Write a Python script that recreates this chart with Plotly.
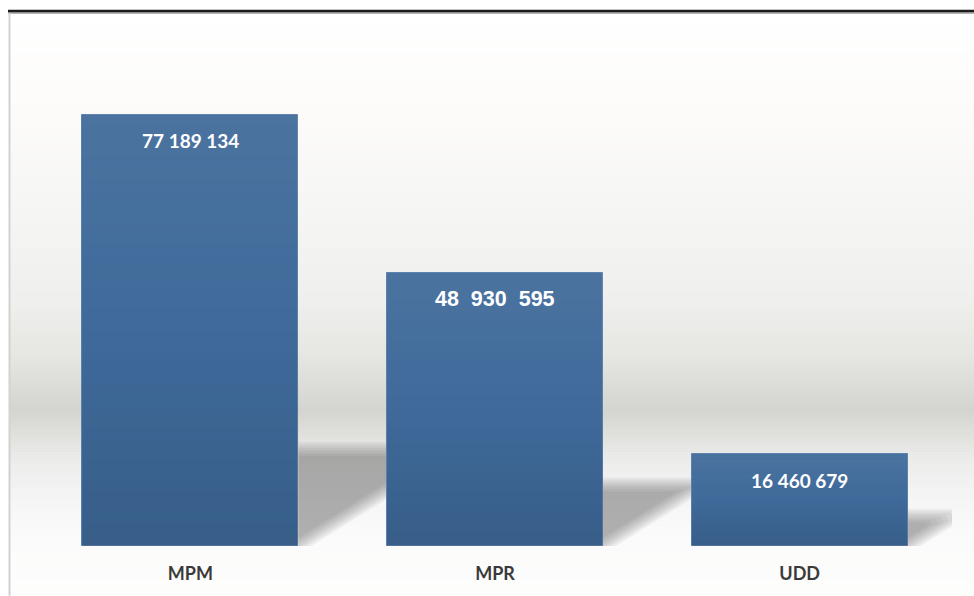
import plotly.graph_objects as go

categories = ["MPM", "MPR", "UDD"]
values = [77189134, 48930595, 16460679]
label_seps = ["\u00a0", "\u00a0\u00a0", "\u00a0"]
label_fonts = ["Lato", "Liberation Sans", "Lato"]
label_sizes = [19, 21.5, 19]

W, H = 974, 596
ML, MR, MT, MB = 38, 22, 13, 48
PW, PH = W - ML - MR, H - MT - MB
XUNIT = PW / 3.0            # px per category
BAR_W = 216 / XUNIT
YMAX = values[0] * PH / 433.0
YPX = PH / YMAX             # px per value unit

def px2paper_x(px):
    return (px - ML) / PW

def px2paper_y(py):
    return (H - MB - py) / PH

def hexrgb(h):
    h = h.lstrip("#")
    return tuple(int(h[i:i + 2], 16) for i in (0, 2, 4))

def lerp_color(stops, py):
    for (y0, c0), (y1, c1) in zip(stops, stops[1:]):
        if y0 <= py <= y1:
            t = (py - y0) / (y1 - y0) if y1 > y0 else 0
            a, b = hexrgb(c0), hexrgb(c1)
            return "rgb(%d,%d,%d)" % tuple(round(a[k] + (b[k] - a[k]) * t) for k in range(3))
    return stops[-1][1]

bg_stops = [(13, "#ffffff"), (120, "#fcfbf9"), (200, "#f6f6f5"), (300, "#efefed"),
            (360, "#e5e5e2"), (412, "#d4d4cf"), (428, "#dcdcd8"), (460, "#ebebea"),
            (500, "#f5f5f5"), (540, "#fbfbfb"), (596, "#fdfdfc")]

shapes = []
# background gradient
step = 3
for py in range(13, H, step):
    shapes.append(dict(type="rect", xref="paper", yref="paper", layer="below",
                       x0=px2paper_x(10), x1=px2paper_x(W + 2),
                       y0=px2paper_y(py + step + 0.5), y1=px2paper_y(py),
                       fillcolor=lerp_color(bg_stops, py + step / 2), line=dict(width=0)))

# bar shadows (computed from the bar values), soft edges by layering
SLOPE = 0.63
for i, v in enumerate(values):
    bar_px = v * YPX
    frac = 0.225 if i < 2 else 0.33
    hs = bar_px * frac
    R = i + BAR_W / 2
    for d in [-7, -5, -3, -1, 1, 3, 5, 7]:
        y0 = d * (1 + SLOPE ** 2) ** 0.5
        top = hs - d
        if top <= y0:
            continue
        xr = (top - y0) / SLOPE
        if i == 2:
            pts = [(R, y0 / YPX), (R + xr * 0.8 / XUNIT, (y0 + (top - y0) * 0.8) / YPX),
                   (R + xr * 0.72 / XUNIT, top / YPX), (R, top / YPX)]
        else:
            pts = [(R, y0 / YPX), (R + xr / XUNIT, top / YPX), (R, top / YPX)]
        path = "M " + " L ".join("%f,%f" % p for p in pts) + " Z"
        shapes.append(dict(type="path", xref="x", yref="y", layer="below", path=path,
                           fillcolor="rgba(92,90,86,0.072)", line=dict(width=0)))

# subtle vertical gradient on the bars (light top, darker bottom)
NSTRIP = 40
for i, v in enumerate(values):
    for k in range(NSTRIP):
        t0, t1 = k / NSTRIP, (k + 1) / NSTRIP   # 0 = bottom, 1 = top
        tm = (t0 + t1) / 2
        if tm > 0.5:
            col = "rgba(255,255,255,%.3f)" % (0.065 * (tm - 0.5) / 0.5)
        else:
            col = "rgba(0,0,0,%.3f)" % (0.11 * (0.5 - tm) / 0.5)
        shapes.append(dict(type="rect", xref="x", yref="y", layer="above",
                           x0=i - BAR_W / 2, x1=i + BAR_W / 2, y0=v * t0, y1=v * t1,
                           fillcolor=col, line=dict(width=0)))

# frame lines
shapes.append(dict(type="line", xref="paper", yref="paper", layer="above",
                   x0=px2paper_x(8), x1=px2paper_x(W + 2), y0=px2paper_y(13), y1=px2paper_y(13),
                   line=dict(color="#9a9a9a", width=1.5)))
shapes.append(dict(type="line", xref="paper", yref="paper", layer="above",
                   x0=px2paper_x(8), x1=px2paper_x(W + 2), y0=px2paper_y(11), y1=px2paper_y(11),
                   line=dict(color="#1c1c1c", width=2.5)))
shapes.append(dict(type="line", xref="paper", yref="paper", layer="above",
                   x0=px2paper_x(9.5), x1=px2paper_x(9.5), y0=px2paper_y(13), y1=px2paper_y(H + 2),
                   line=dict(color="#d2d2d0", width=2)))

fig = go.Figure()
fig.add_trace(go.Bar(x=list(range(len(categories))), y=values, width=BAR_W,
                     marker=dict(color="#3f6a9a", line=dict(color="#5b81ad", width=1)),
                     hoverinfo="skip"))

annotations = []
for i, v in enumerate(values):
    txt = f"{v:,}".replace(",", label_seps[i])
    annotations.append(dict(x=i, y=v, xref="x", yref="y", text=txt, showarrow=False,
                            yanchor="middle", yshift=-26,
                            font=dict(family=label_fonts[i], size=label_sizes[i],
                                      color="white", weight="bold")))

fig.update_layout(
    width=W, height=H,
    margin=dict(l=ML, r=MR, t=MT, b=MB),
    paper_bgcolor="white", plot_bgcolor="rgba(0,0,0,0)",
    showlegend=False, bargap=0,
    shapes=shapes, annotations=annotations,
    xaxis=dict(range=[-0.5, 2.5], tickvals=list(range(len(categories))), ticktext=categories,
               showgrid=False, zeroline=False, showline=False, ticks="",
               ticklabelstandoff=15,
               tickfont=dict(family="Lato", size=18, color="#3a3a3a", weight="bold")),
    yaxis=dict(range=[0, YMAX], visible=False, showgrid=False, zeroline=False),
)

fig.write_html("out.html")
